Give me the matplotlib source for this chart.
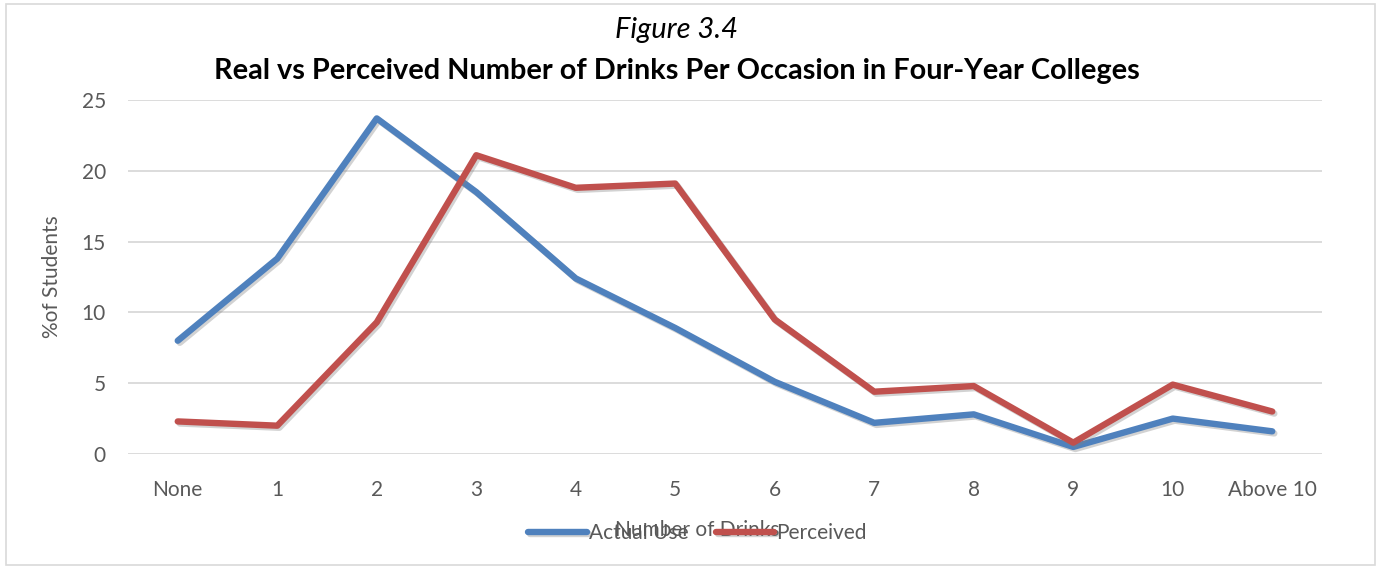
import numpy as np
import matplotlib
matplotlib.use("Agg")
import matplotlib.pyplot as plt
import matplotlib.patheffects as pe
from matplotlib.patches import Rectangle

# data
categories = ["None", "1", "2", "3", "4", "5", "6", "7", "8", "9", "10", "Above 10"]
actual_use = [8.0, 13.8, 23.7, 18.5, 12.4, 8.9, 5.1, 2.2, 2.8, 0.5, 2.5, 1.6]
perceived = [2.3, 2.0, 9.3, 21.1, 18.8, 19.1, 9.5, 4.4, 4.8, 0.8, 4.9, 3.0]
y_ticks = [0, 5, 10, 15, 20, 25]

plt.rcParams['font.family'] = ['Lato', 'DejaVu Sans']

fig = plt.figure(figsize=(13.81, 5.69), dpi=100)
ax = fig.add_axes([128/1381, 1 - 454/569, 1194/1381, 354/569])

# outer chart border
fig.patches.append(Rectangle((6/1381, 4/569), 1369/1381, 561/569, transform=fig.transFigure,
                             fill=False, edgecolor='#d9d9d9', linewidth=1.2))

x = np.arange(len(categories))
shadow = [pe.SimpleLineShadow(offset=(1.5, -1.5), shadow_color='gray', alpha=0.35), pe.Normal()]
ax.plot(x, actual_use, color='#4f81bd', linewidth=4.6, solid_capstyle='round',
        label='Actual Use', path_effects=shadow, zorder=3)
ax.plot(x, perceived, color='#c0504d', linewidth=4.6, solid_capstyle='round',
        label='Perceived', path_effects=shadow, zorder=3)

ax.set_xlim(-0.5, len(categories) - 0.5)
ax.set_ylim(0, 25)
ax.set_yticks(y_ticks)
ax.set_xticks(x)
ax.set_xticklabels(categories)
ax.tick_params(axis='both', length=0, labelsize=15, labelcolor='#595959')
ax.tick_params(axis='x', pad=19)
ax.tick_params(axis='y', pad=16)
ax.grid(axis='y', color='#d9d9d9', linewidth=1.3)
ax.set_axisbelow(True)
for s in ax.spines.values():
    s.set_visible(False)

ax.set_ylabel('%of Students', fontsize=15, color='#595959', labelpad=14)

fig.text(0.49, 1 - 30/569, 'Figure 3.4', ha='center', va='center', fontsize=21, style='italic')
fig.text(0.49, 1 - 71/569, 'Real vs Perceived Number of Drinks Per Occasion in Four-Year Colleges',
         ha='center', va='center', fontsize=20.8, weight='bold')

# x label sits behind the legend, as in the original
fig.text(0.505, 1 - 530/569, 'Number of Drinks', ha='center', va='center', fontsize=15, color='#595959')
fig.legend(loc='center', bbox_to_anchor=(0.505, 1 - 533/569), ncol=2, frameon=False,
           fontsize=15, labelcolor='#595959', handlelength=2.8, handletextpad=0.1,
           columnspacing=1.3)

fig.savefig('out.png', dpi=100, facecolor='white')
